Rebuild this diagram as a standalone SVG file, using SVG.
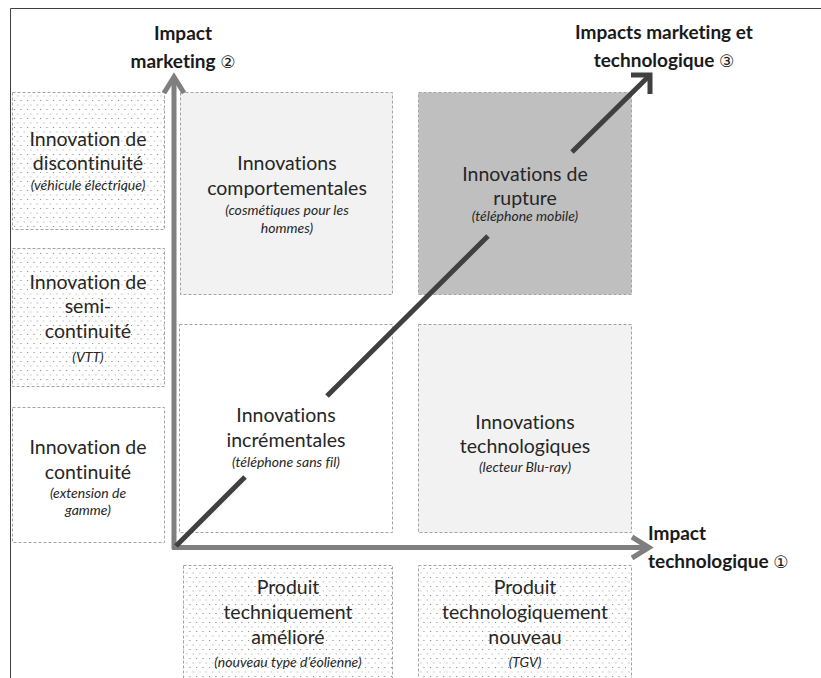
<svg xmlns="http://www.w3.org/2000/svg" width="821" height="678" viewBox="0 0 821 678">
<defs>
<pattern id="dots" width="6.5" height="9" patternUnits="userSpaceOnUse">
<rect x="1" y="1" width="1" height="1" fill="#7a7a7a"/>
<rect x="4.25" y="5.5" width="1" height="1" fill="#9a9a9a"/>
</pattern>
</defs>
<style>
text{font-variant-ligatures:none}
.box{stroke:#a3a3a3;stroke-width:1;stroke-dasharray:3 2}
.dot{fill:url(#dots)}
.t{font-family:Lato,"Liberation Sans",sans-serif;font-size:19.5px;fill:#262626;text-anchor:middle}
.i{font-family:Lato,"Liberation Sans",sans-serif;font-size:14px;font-style:italic;fill:#262626;text-anchor:middle}
.h{font-family:Lato,"Liberation Sans",sans-serif;font-size:19px;font-weight:bold;fill:#1a1a1a}
.n{font-family:"DejaVu Sans",sans-serif;font-weight:normal;font-size:17px}
.axis{stroke:#7f7f7f;stroke-width:5;fill:none}
.diag{stroke:#404040;stroke-width:5;fill:none}
</style>
<rect width="821" height="678" fill="#ffffff"/>
<path d="M10.5 678 V8.5 H821" fill="none" stroke="#404040" stroke-width="1"/>

<g id="discontinuite">
<rect class="dot box" x="12.5" y="92.5" width="152" height="137"/>
<text class="t" x="88" y="146">Innovation de</text>
<text class="t" x="88" y="170">discontinuité</text>
<text class="i" x="88" y="190">(véhicule électrique)</text>
</g>
<g id="semi-continuite">
<rect class="dot box" x="12.5" y="248.5" width="152" height="138"/>
<text class="t" x="88" y="289">Innovation de</text>
<text class="t" x="88" y="313">semi-</text>
<text class="t" x="88" y="338">continuité</text>
<text class="i" x="88" y="362">(VTT)</text>
</g>
<g id="continuite">
<rect class="box" x="12.5" y="407.5" width="152" height="135" fill="#ffffff"/>
<text class="t" x="88" y="454">Innovation de</text>
<text class="t" x="88" y="479">continuité</text>
<text class="i" x="88" y="498">(extension de</text>
<text class="i" x="88" y="515">gamme)</text>
</g>
<g id="comportementales">
<rect class="box" x="180.5" y="92.5" width="212" height="202" fill="#f2f2f2"/>
<text class="t" x="287" y="170">Innovations</text>
<text class="t" x="287" y="195">comportementales</text>
<text class="i" x="287" y="215">(cosmétiques pour les</text>
<text class="i" x="287" y="233">hommes)</text>
</g>
<g id="rupture">
<rect class="box" x="418.5" y="92.5" width="213" height="202" fill="#bfbfbf"/>
<text class="t" x="525" y="181">Innovations de</text>
<text class="t" x="525" y="205">rupture</text>
<text class="i" x="525" y="221">(téléphone mobile)</text>
</g>
<g id="incrementales">
<rect class="box" x="179.5" y="324.5" width="213" height="208" fill="#ffffff"/>
<text class="t" x="286" y="422">Innovations</text>
<text class="t" x="286" y="447">incrémentales</text>
<text class="i" x="286" y="467">(téléphone sans fil)</text>
</g>
<g id="technologiques">
<rect class="box" x="418.5" y="324.5" width="213" height="208" fill="#f2f2f2"/>
<text class="t" x="525" y="429">Innovations</text>
<text class="t" x="525" y="453">technologiques</text>
<text class="i" x="525" y="472">(lecteur Blu-ray)</text>
</g>
<g id="techniquement-ameliore">
<rect class="dot box" x="183.5" y="565.5" width="209" height="120"/>
<text class="t" x="288" y="594">Produit</text>
<text class="t" x="288" y="619">techniquement</text>
<text class="t" x="288" y="644">amélioré</text>
<text class="i" x="288" y="667">(nouveau type d’éolienne)</text>
</g>
<g id="technologiquement-nouveau">
<rect class="dot box" x="418.5" y="565.5" width="213" height="120"/>
<text class="t" x="525" y="594">Produit</text>
<text class="t" x="525" y="619">technologiquement</text>
<text class="t" x="525" y="644">nouveau</text>
<text class="i" x="525" y="667">(TGV)</text>
</g>

<g id="connectors">
<path class="axis" d="M174 549 V78"/>
<path class="axis" d="M164 93 L174 77 L184 93" stroke-linejoin="miter"/>
<path class="axis" d="M172 547.5 H648"/>
<path class="axis" d="M632 537 L649 547.5 L632 558" stroke-linejoin="miter"/>
<path class="diag" d="M176 546 L245 477 M327 396 L488 236 M572 152 L649 76"/>
<path class="diag" d="M631 75 L650 75 L650 94" stroke-linejoin="miter"/>
</g>

<g id="label-marketing">
<text class="h" x="183" y="40" text-anchor="middle">Impact</text>
<text class="h" x="183" y="68" text-anchor="middle">marketing <tspan class="n">②</tspan></text>
</g>
<g id="label-mixte">
<text class="h" x="664" y="39" text-anchor="middle">Impacts marketing et</text>
<text class="h" x="664" y="67" text-anchor="middle">technologique <tspan class="n">③</tspan></text>
</g>
<g id="label-technologique">
<text class="h" x="648" y="540">Impact</text>
<text class="h" x="648" y="568">technologique <tspan class="n">①</tspan></text>
</g>
</svg>
